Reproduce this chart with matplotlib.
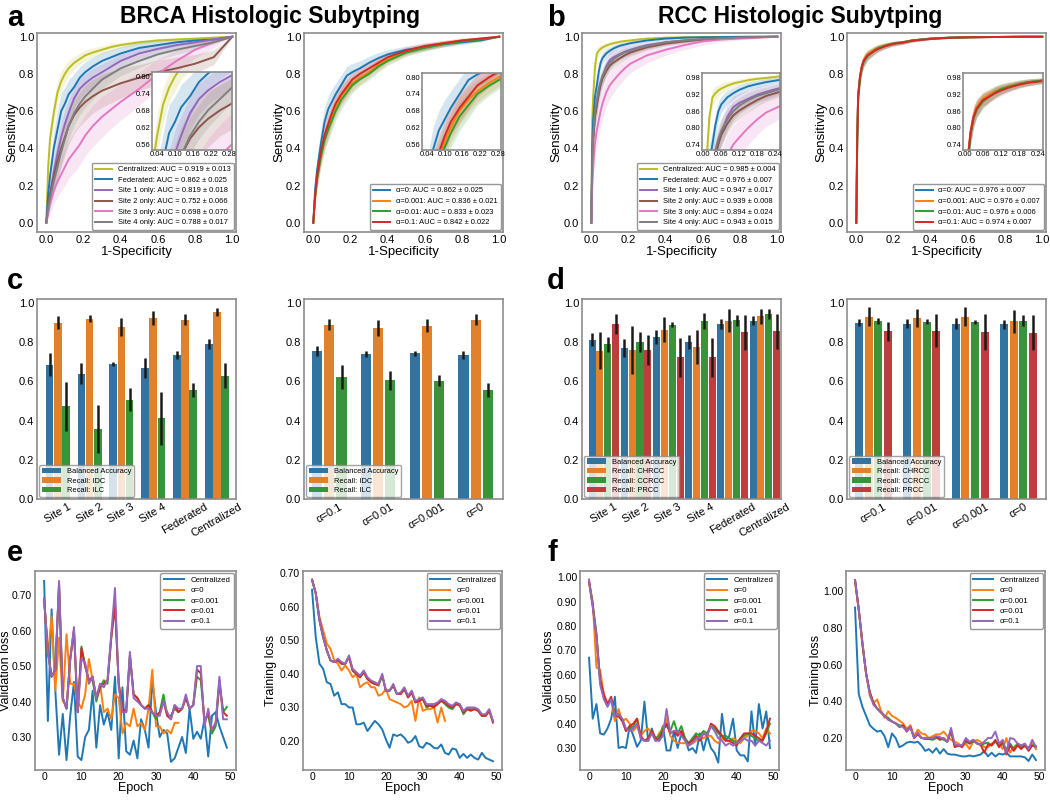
import numpy as np
import matplotlib.pyplot as plt
from matplotlib.ticker import FormatStrFormatter

plt.rcParams['font.family'] = ['Liberation Sans', 'DejaVu Sans']

# ---------------- ROC data ----------------
brca_fpr = [0, 0.01, 0.02, 0.04, 0.06, 0.08, 0.10, 0.12, 0.15, 0.18, 0.21,
            0.25, 0.30, 0.35, 0.40, 0.50, 0.60, 0.70, 0.80, 0.90, 1.0]
brca_names = ['Centralized', 'Federated', 'Site 1 only', 'Site 2 only', 'Site 3 only', 'Site 4 only']
brca_auc = ['0.919 ± 0.013', '0.862 ± 0.025', '0.819 ± 0.018', '0.752 ± 0.066', '0.698 ± 0.070', '0.788 ± 0.017']
brca_tpr_central = [0, 0.30, 0.45, 0.59, 0.70, 0.76, 0.80, 0.83, 0.86, 0.88, 0.90,
                    0.915, 0.93, 0.945, 0.955, 0.97, 0.98, 0.985, 0.99, 0.995, 1.0]
brca_tpr_fed = [0, 0.15, 0.25, 0.40, 0.50, 0.60, 0.64, 0.69, 0.73, 0.78, 0.81,
                0.84, 0.87, 0.89, 0.91, 0.94, 0.955, 0.97, 0.98, 0.985, 1.0]
brca_tpr_site1 = [0, 0.08, 0.15, 0.27, 0.37, 0.46, 0.53, 0.59, 0.67, 0.72, 0.75,
                  0.78, 0.81, 0.84, 0.87, 0.91, 0.935, 0.955, 0.97, 0.985, 1.0]
brca_tpr_site2 = [0, 0.08, 0.15, 0.25, 0.33, 0.40, 0.46, 0.52, 0.58, 0.62, 0.65,
                  0.68, 0.71, 0.73, 0.75, 0.78, 0.81, 0.83, 0.855, 0.89, 1.0]
brca_tpr_site3 = [0, 0.05, 0.10, 0.17, 0.22, 0.26, 0.30, 0.34, 0.38, 0.42, 0.47,
                  0.52, 0.57, 0.61, 0.65, 0.72, 0.80, 0.87, 0.93, 0.97, 1.0]
brca_tpr_site4 = [0, 0.08, 0.13, 0.22, 0.30, 0.38, 0.45, 0.52, 0.59, 0.64, 0.68,
                  0.72, 0.77, 0.80, 0.83, 0.87, 0.905, 0.93, 0.95, 0.97, 1.0]
brca_sd_central = [0, 0.05, 0.07, 0.07, 0.06, 0.05, 0.05, 0.04, 0.035, 0.03, 0.03,
                   0.025, 0.02, 0.02, 0.015, 0.012, 0.01, 0.008, 0.006, 0.004, 0]
brca_sd_fed = [0, 0.05, 0.07, 0.09, 0.10, 0.10, 0.09, 0.08, 0.07, 0.06, 0.055,
               0.05, 0.045, 0.04, 0.035, 0.03, 0.025, 0.02, 0.015, 0.01, 0]
brca_sd_site1 = [0, 0.03, 0.05, 0.07, 0.08, 0.08, 0.08, 0.07, 0.06, 0.055, 0.05,
                 0.05, 0.045, 0.04, 0.035, 0.03, 0.025, 0.02, 0.015, 0.01, 0]
brca_sd_site2 = [0, 0.04, 0.06, 0.08, 0.09, 0.10, 0.10, 0.10, 0.10, 0.10, 0.10,
                 0.09, 0.09, 0.085, 0.08, 0.07, 0.065, 0.06, 0.05, 0.04, 0]
brca_sd_site3 = [0, 0.03, 0.05, 0.07, 0.08, 0.09, 0.10, 0.10, 0.11, 0.11, 0.11,
                 0.11, 0.11, 0.10, 0.10, 0.09, 0.08, 0.06, 0.045, 0.03, 0]
brca_sd_site4 = [0, 0.03, 0.05, 0.06, 0.07, 0.07, 0.07, 0.07, 0.065, 0.06, 0.06,
                 0.055, 0.05, 0.045, 0.04, 0.035, 0.03, 0.025, 0.02, 0.01, 0]

alpha_names = ['α=0', 'α=0.001', 'α=0.01', 'α=0.1']
brca_alpha_auc = ['0.862 ± 0.025', '0.836 ± 0.021', '0.833 ± 0.023', '0.842 ± 0.022']
brca_tpr_a0 = [0, 0.18, 0.28, 0.42, 0.54, 0.61, 0.65, 0.69, 0.74, 0.79, 0.81,
               0.83, 0.86, 0.885, 0.905, 0.93, 0.945, 0.96, 0.97, 0.98, 1.0]
brca_tpr_a0001 = [0, 0.14, 0.24, 0.36, 0.45, 0.51, 0.57, 0.62, 0.68, 0.72, 0.75,
                  0.78, 0.81, 0.85, 0.88, 0.92, 0.945, 0.965, 0.98, 0.99, 1.0]
brca_tpr_a001 = [0, 0.14, 0.23, 0.35, 0.44, 0.50, 0.55, 0.60, 0.66, 0.70, 0.74,
                 0.77, 0.80, 0.84, 0.87, 0.915, 0.94, 0.96, 0.975, 0.985, 1.0]
brca_tpr_a01 = [0, 0.15, 0.25, 0.38, 0.47, 0.53, 0.59, 0.64, 0.69, 0.73, 0.77,
                0.80, 0.83, 0.86, 0.89, 0.925, 0.95, 0.965, 0.98, 0.99, 1.0]
brca_sd_a0 = [0, 0.04, 0.06, 0.08, 0.08, 0.07, 0.07, 0.06, 0.055, 0.05, 0.045,
              0.04, 0.035, 0.03, 0.025, 0.02, 0.018, 0.015, 0.012, 0.008, 0]
brca_sd_a = [0, 0.04, 0.05, 0.06, 0.06, 0.06, 0.055, 0.05, 0.05, 0.045, 0.04,
             0.035, 0.03, 0.03, 0.025, 0.02, 0.018, 0.015, 0.012, 0.008, 0]

rcc_fpr = [0, 0.005, 0.01, 0.02, 0.03, 0.04, 0.05, 0.06, 0.08, 0.10, 0.12, 0.15,
           0.18, 0.21, 0.25, 0.30, 0.40, 0.50, 0.60, 0.70, 0.80, 0.90, 1.0]
rcc_auc = ['0.985 ± 0.004', '0.976 ± 0.007', '0.947 ± 0.017', '0.939 ± 0.008', '0.894 ± 0.024', '0.943 ± 0.015']
rcc_tpr_central = [0, 0.55, 0.68, 0.84, 0.91, 0.925, 0.935, 0.942, 0.952, 0.96, 0.965, 0.972,
                   0.977, 0.98, 0.985, 0.99, 0.995, 0.997, 0.998, 0.999, 1.0, 1.0, 1.0]
rcc_tpr_fed = [0, 0.40, 0.55, 0.68, 0.74, 0.81, 0.86, 0.885, 0.91, 0.925, 0.937, 0.95,
               0.958, 0.965, 0.972, 0.98, 0.99, 0.995, 0.997, 0.998, 0.999, 1.0, 1.0]
rcc_tpr_site1 = [0, 0.30, 0.45, 0.58, 0.64, 0.69, 0.74, 0.78, 0.84, 0.875, 0.89, 0.905,
                 0.92, 0.93, 0.942, 0.955, 0.97, 0.98, 0.985, 0.99, 0.995, 0.998, 1.0]
rcc_tpr_site2 = [0, 0.30, 0.45, 0.57, 0.63, 0.70, 0.745, 0.775, 0.815, 0.845, 0.862, 0.882,
                 0.90, 0.915, 0.928, 0.943, 0.963, 0.975, 0.985, 0.99, 0.995, 0.998, 1.0]
rcc_tpr_site3 = [0, 0.20, 0.30, 0.43, 0.50, 0.55, 0.60, 0.64, 0.70, 0.74, 0.765, 0.80,
                 0.83, 0.855, 0.875, 0.90, 0.93, 0.955, 0.975, 0.985, 0.99, 0.995, 1.0]
rcc_tpr_site4 = [0, 0.32, 0.47, 0.60, 0.66, 0.72, 0.76, 0.79, 0.83, 0.86, 0.88, 0.90,
                 0.915, 0.925, 0.938, 0.95, 0.97, 0.98, 0.987, 0.992, 0.996, 0.998, 1.0]
rcc_sd_central = [0, 0.08, 0.06, 0.04, 0.03, 0.025, 0.02, 0.02, 0.015, 0.012, 0.01, 0.01,
                  0.008, 0.007, 0.006, 0.005, 0.004, 0.003, 0.002, 0.002, 0.001, 0.001, 0]
rcc_sd_fed = [0, 0.08, 0.07, 0.06, 0.05, 0.04, 0.035, 0.03, 0.025, 0.02, 0.018, 0.015,
              0.013, 0.012, 0.01, 0.008, 0.006, 0.004, 0.003, 0.002, 0.002, 0.001, 0]
rcc_sd_site1 = [0, 0.08, 0.08, 0.07, 0.06, 0.06, 0.055, 0.05, 0.045, 0.04, 0.035, 0.03,
                0.028, 0.025, 0.02, 0.018, 0.015, 0.01, 0.008, 0.006, 0.004, 0.002, 0]
rcc_sd_site2 = [0, 0.06, 0.06, 0.05, 0.05, 0.045, 0.04, 0.04, 0.035, 0.03, 0.03, 0.025,
                0.022, 0.02, 0.018, 0.015, 0.012, 0.01, 0.008, 0.006, 0.004, 0.002, 0]
rcc_sd_site3 = [0, 0.08, 0.09, 0.09, 0.09, 0.09, 0.085, 0.08, 0.075, 0.07, 0.065, 0.06,
                0.055, 0.05, 0.045, 0.04, 0.03, 0.025, 0.02, 0.012, 0.008, 0.004, 0]
rcc_sd_site4 = [0, 0.07, 0.07, 0.06, 0.06, 0.055, 0.05, 0.045, 0.04, 0.035, 0.03, 0.028,
                0.025, 0.022, 0.02, 0.016, 0.012, 0.01, 0.008, 0.006, 0.004, 0.002, 0]

rcc_alpha_auc = ['0.976 ± 0.007', '0.976 ± 0.007', '0.976 ± 0.006', '0.974 ± 0.007']
rcc_tpr_a0 = [0, 0.45, 0.68, 0.78, 0.84, 0.87, 0.885, 0.90, 0.915, 0.93, 0.94, 0.95,
              0.96, 0.965, 0.97, 0.98, 0.99, 0.995, 0.997, 0.998, 0.999, 1.0, 1.0]
rcc_tpr_a0001 = [0, 0.47, 0.69, 0.79, 0.845, 0.875, 0.89, 0.905, 0.92, 0.932, 0.942, 0.952,
                 0.96, 0.965, 0.97, 0.98, 0.99, 0.995, 0.997, 0.998, 0.999, 1.0, 1.0]
rcc_tpr_a001 = [0, 0.44, 0.67, 0.78, 0.835, 0.865, 0.88, 0.895, 0.912, 0.928, 0.94, 0.95,
                0.958, 0.965, 0.97, 0.98, 0.99, 0.995, 0.997, 0.998, 0.999, 1.0, 1.0]
rcc_tpr_a01 = [0, 0.45, 0.68, 0.785, 0.84, 0.87, 0.885, 0.90, 0.912, 0.925, 0.935, 0.947,
               0.956, 0.963, 0.968, 0.978, 0.988, 0.994, 0.997, 0.998, 0.999, 1.0, 1.0]
rcc_sd_a = [0, 0.06, 0.05, 0.04, 0.035, 0.03, 0.028, 0.025, 0.022, 0.02, 0.018, 0.015,
            0.013, 0.012, 0.01, 0.008, 0.005, 0.004, 0.003, 0.002, 0.001, 0.001, 0]

# ---------------- bar data ----------------
brca_groups = ['Site 1', 'Site 2', 'Site 3', 'Site 4', 'Federated', 'Centralized']
brca_metrics = ['Balanced Accuracy', 'Recall: IDC', 'Recall: ILC']
brca_bacc = [0.685, 0.639, 0.690, 0.668, 0.736, 0.790]
brca_bacc_err = [0.06, 0.054, 0.011, 0.051, 0.02, 0.026]
brca_idc = [0.900, 0.920, 0.877, 0.923, 0.915, 0.954]
brca_idc_err = [0.032, 0.019, 0.045, 0.037, 0.027, 0.02]
brca_ilc = [0.472, 0.358, 0.506, 0.412, 0.557, 0.629]
brca_ilc_err = [0.126, 0.123, 0.058, 0.135, 0.037, 0.063]

alpha_groups = ['α=0.1', 'α=0.01', 'α=0.001', 'α=0']
brca_a_bacc = [0.756, 0.739, 0.744, 0.736]
brca_a_bacc_err = [0.026, 0.017, 0.013, 0.02]
brca_a_idc = [0.889, 0.874, 0.884, 0.915]
brca_a_idc_err = [0.027, 0.041, 0.032, 0.027]
brca_a_ilc = [0.622, 0.605, 0.603, 0.557]
brca_a_ilc_err = [0.062, 0.05, 0.028, 0.037]

rcc_metrics = ['Balanced Accuracy', 'Recall: CHRCC', 'Recall: CCRCC', 'Recall: PRCC']
rcc_bacc = [0.813, 0.770, 0.826, 0.800, 0.891, 0.910]
rcc_bacc_err = [0.034, 0.047, 0.034, 0.034, 0.025, 0.023]
rcc_chrcc = [0.756, 0.760, 0.864, 0.775, 0.910, 0.932]
rcc_chrcc_err = [0.094, 0.12, 0.064, 0.085, 0.06, 0.039]
rcc_ccrcc = [0.790, 0.800, 0.889, 0.906, 0.911, 0.944]
rcc_ccrcc_err = [0.038, 0.051, 0.014, 0.041, 0.028, 0.027]
rcc_prcc = [0.893, 0.758, 0.722, 0.722, 0.850, 0.855]
rcc_prcc_err = [0.051, 0.077, 0.10, 0.10, 0.09, 0.089]

rcc_a_bacc = [0.900, 0.895, 0.895, 0.890]
rcc_a_bacc_err = [0.02, 0.025, 0.03, 0.025]
rcc_a_chrcc = [0.930, 0.922, 0.930, 0.906]
rcc_a_chrcc_err = [0.048, 0.047, 0.048, 0.06]
rcc_a_ccrcc = [0.910, 0.905, 0.901, 0.910]
rcc_a_ccrcc_err = [0.015, 0.014, 0.011, 0.028]
rcc_a_prcc = [0.855, 0.857, 0.852, 0.849]
rcc_a_prcc_err = [0.048, 0.084, 0.094, 0.09]

# ---------------- loss data ----------------
loss_names = ['Centralized', 'α=0', 'α=0.001', 'α=0.01', 'α=0.1']
brca_val_central = [0.74, 0.345, 0.66, 0.43, 0.25, 0.365, 0.235, 0.36, 0.455, 0.245,
                    0.235, 0.30, 0.32, 0.43, 0.27, 0.39, 0.335, 0.37, 0.32, 0.47,
                    0.24, 0.44, 0.26, 0.25, 0.29, 0.24, 0.35, 0.32, 0.27, 0.46,
                    0.37, 0.30, 0.32, 0.31, 0.23, 0.24, 0.27, 0.30, 0.255, 0.38,
                    0.295, 0.315, 0.295, 0.35, 0.245, 0.36, 0.37, 0.33, 0.30, 0.27]
brca_val_a0 = [0.69, 0.53, 0.64, 0.43, 0.58, 0.40, 0.59, 0.45, 0.45, 0.40,
               0.38, 0.42, 0.52, 0.46, 0.41, 0.45, 0.37, 0.38, 0.35, 0.42,
               0.41, 0.31, 0.34, 0.33, 0.38, 0.33, 0.34, 0.32, 0.38, 0.49,
               0.33, 0.33, 0.31, 0.32, 0.31, 0.34, 0.34]
brca_val_a0001 = [0.69, 0.54, 0.47, 0.49, 0.73, 0.41, 0.38, 0.52, 0.60, 0.37,
                  0.555, 0.50, 0.46, 0.46, 0.40, 0.44, 0.46, 0.45, 0.58, 0.68,
                  0.45, 0.38, 0.37, 0.53, 0.42, 0.41, 0.39, 0.38, 0.39, 0.37,
                  0.35, 0.37, 0.42, 0.36, 0.36, 0.38, 0.37, 0.38, 0.41, 0.38,
                  0.39, 0.47, 0.46, 0.35, 0.36, 0.31, 0.33, 0.45, 0.37, 0.385]
brca_val_a001 = [0.69, 0.54, 0.47, 0.49, 0.73, 0.41, 0.38, 0.52, 0.60, 0.37,
                 0.55, 0.50, 0.46, 0.47, 0.41, 0.44, 0.45, 0.46, 0.58, 0.67,
                 0.45, 0.38, 0.37, 0.53, 0.42, 0.41, 0.39, 0.38, 0.39, 0.37,
                 0.36, 0.37, 0.40, 0.36, 0.35, 0.39, 0.37, 0.38, 0.41, 0.38,
                 0.39, 0.49, 0.48, 0.34, 0.37, 0.32, 0.34, 0.46, 0.37, 0.36]
brca_val_a01 = [0.69, 0.54, 0.47, 0.49, 0.74, 0.41, 0.38, 0.52, 0.61, 0.37,
                0.52, 0.51, 0.45, 0.47, 0.41, 0.45, 0.44, 0.46, 0.59, 0.72,
                0.44, 0.37, 0.37, 0.54, 0.41, 0.40, 0.39, 0.38, 0.38, 0.37,
                0.36, 0.36, 0.40, 0.37, 0.35, 0.39, 0.38, 0.38, 0.42, 0.38,
                0.39, 0.50, 0.50, 0.33, 0.38, 0.32, 0.34, 0.47, 0.35, 0.35]

brca_train_central = [0.65, 0.51, 0.43, 0.415, 0.375, 0.37, 0.335, 0.345, 0.31, 0.31,
                      0.30, 0.30, 0.25, 0.25, 0.255, 0.23, 0.245, 0.26, 0.25, 0.235,
                      0.205, 0.18, 0.22, 0.215, 0.22, 0.21, 0.195, 0.20, 0.215, 0.185,
                      0.18, 0.195, 0.19, 0.18, 0.178, 0.19, 0.165, 0.16, 0.178, 0.175,
                      0.15, 0.162, 0.15, 0.16, 0.15, 0.145, 0.165, 0.15, 0.145, 0.14]
brca_train_a0 = [0.68, 0.64, 0.57, 0.53, 0.49, 0.475, 0.44, 0.43, 0.41, 0.425,
                 0.41, 0.39, 0.40, 0.36, 0.37, 0.375, 0.36, 0.36, 0.335, 0.34,
                 0.355, 0.325, 0.32, 0.315, 0.31, 0.30, 0.305, 0.32, 0.26, 0.33,
                 0.29, 0.295, 0.295, 0.30, 0.255, 0.30, 0.26]
brca_train_a0001 = [0.68, 0.64, 0.56, 0.51, 0.47, 0.44, 0.435, 0.44, 0.43, 0.43,
                    0.45, 0.41, 0.40, 0.39, 0.405, 0.385, 0.375, 0.37, 0.365, 0.395,
                    0.35, 0.35, 0.365, 0.34, 0.34, 0.355, 0.33, 0.345, 0.315, 0.32,
                    0.325, 0.30, 0.305, 0.305, 0.31, 0.32, 0.31, 0.30, 0.295, 0.31,
                    0.31, 0.28, 0.295, 0.295, 0.295, 0.29, 0.275, 0.275, 0.29, 0.26]
brca_train_a001 = [0.68, 0.64, 0.56, 0.51, 0.47, 0.44, 0.435, 0.44, 0.43, 0.43,
                   0.45, 0.41, 0.40, 0.39, 0.405, 0.385, 0.375, 0.37, 0.37, 0.395,
                   0.35, 0.35, 0.365, 0.34, 0.34, 0.355, 0.33, 0.345, 0.315, 0.32,
                   0.325, 0.305, 0.305, 0.30, 0.31, 0.32, 0.315, 0.305, 0.30, 0.31,
                   0.305, 0.285, 0.295, 0.29, 0.295, 0.29, 0.275, 0.275, 0.29, 0.255]
brca_train_a01 = [0.68, 0.64, 0.56, 0.51, 0.47, 0.44, 0.435, 0.445, 0.435, 0.43,
                  0.455, 0.415, 0.405, 0.395, 0.41, 0.39, 0.38, 0.375, 0.37, 0.40,
                  0.35, 0.35, 0.37, 0.34, 0.345, 0.36, 0.335, 0.35, 0.32, 0.325,
                  0.33, 0.31, 0.31, 0.31, 0.315, 0.325, 0.32, 0.31, 0.305, 0.315,
                  0.31, 0.29, 0.30, 0.30, 0.30, 0.295, 0.28, 0.28, 0.295, 0.26]

rcc_val_central = [0.67, 0.42, 0.48, 0.36, 0.355, 0.38, 0.42, 0.51, 0.30, 0.305,
                   0.30, 0.39, 0.35, 0.305, 0.33, 0.49, 0.33, 0.38, 0.33, 0.34,
                   0.39, 0.29, 0.29, 0.37, 0.30, 0.36, 0.34, 0.29, 0.30, 0.28,
                   0.36, 0.29, 0.35, 0.30, 0.28, 0.24, 0.44, 0.33, 0.35, 0.42,
                   0.29, 0.27, 0.27, 0.245, 0.45, 0.31, 0.48, 0.38, 0.45, 0.30]
rcc_val_a0 = [0.98, 0.90, 0.63, 0.62, 0.52, 0.48, 0.50, 0.41, 0.46, 0.41,
              0.42, 0.40, 0.37, 0.39, 0.35, 0.37, 0.38, 0.36, 0.33, 0.36,
              0.38, 0.42, 0.35, 0.33, 0.32, 0.32, 0.32, 0.31, 0.32, 0.33,
              0.34, 0.34, 0.35, 0.35, 0.33, 0.32, 0.34, 0.33, 0.33, 0.34,
              0.33, 0.32, 0.34, 0.35, 0.37, 0.37, 0.36, 0.34, 0.38, 0.36]
rcc_val_a0001 = [0.98, 0.89, 0.77, 0.57, 0.51, 0.47, 0.50, 0.44, 0.43, 0.42,
                 0.37, 0.38, 0.39, 0.42, 0.34, 0.33, 0.33, 0.37, 0.34, 0.35,
                 0.38, 0.39, 0.37, 0.41, 0.36, 0.39, 0.34, 0.32, 0.34, 0.36,
                 0.35, 0.37, 0.36, 0.39, 0.38, 0.36, 0.35, 0.35, 0.34, 0.33,
                 0.32, 0.34, 0.35, 0.36, 0.35, 0.34, 0.33, 0.33, 0.36, 0.40]
rcc_val_a001 = [0.98, 0.88, 0.76, 0.58, 0.52, 0.48, 0.51, 0.43, 0.43, 0.41,
                0.37, 0.39, 0.40, 0.42, 0.35, 0.33, 0.34, 0.37, 0.34, 0.33,
                0.37, 0.40, 0.36, 0.37, 0.35, 0.37, 0.33, 0.32, 0.33, 0.35,
                0.33, 0.36, 0.35, 0.40, 0.39, 0.37, 0.35, 0.33, 0.33, 0.32,
                0.31, 0.34, 0.36, 0.36, 0.36, 0.35, 0.34, 0.33, 0.37, 0.42]
rcc_val_a01 = [0.99, 0.88, 0.76, 0.56, 0.50, 0.47, 0.50, 0.43, 0.44, 0.42,
               0.38, 0.37, 0.38, 0.40, 0.34, 0.33, 0.33, 0.36, 0.33, 0.33,
               0.35, 0.46, 0.36, 0.37, 0.37, 0.35, 0.33, 0.31, 0.32, 0.34,
               0.34, 0.36, 0.35, 0.39, 0.37, 0.34, 0.33, 0.31, 0.32, 0.31,
               0.32, 0.33, 0.34, 0.33, 0.33, 0.31, 0.33, 0.32, 0.31, 0.33]

rcc_train_central = [0.91, 0.44, 0.37, 0.32, 0.27, 0.25, 0.235, 0.24, 0.21, 0.15,
                     0.225, 0.20, 0.15, 0.16, 0.175, 0.18, 0.175, 0.18, 0.16, 0.13,
                     0.14, 0.12, 0.145, 0.115, 0.14, 0.115, 0.11, 0.11, 0.105, 0.10,
                     0.10, 0.105, 0.10, 0.105, 0.11, 0.13, 0.10, 0.12, 0.10, 0.115,
                     0.11, 0.12, 0.10, 0.10, 0.10, 0.10, 0.095, 0.075, 0.11, 0.08]
rcc_train_a0 = [1.05, 0.90, 0.72, 0.55, 0.43, 0.39, 0.41, 0.35, 0.31, 0.345,
                0.32, 0.31, 0.295, 0.28, 0.25, 0.27, 0.21, 0.245, 0.225, 0.22,
                0.20, 0.21, 0.22, 0.22, 0.235, 0.21, 0.19, 0.18, 0.17, 0.155,
                0.17, 0.14, 0.18, 0.19, 0.18, 0.15, 0.15, 0.17, 0.18, 0.17,
                0.14, 0.20, 0.12, 0.15, 0.17, 0.16, 0.16, 0.14, 0.18, 0.14]
rcc_train_a0001 = [1.06, 0.90, 0.71, 0.55, 0.45, 0.39, 0.36, 0.34, 0.32, 0.31,
                   0.29, 0.28, 0.27, 0.265, 0.24, 0.26, 0.20, 0.225, 0.20, 0.20,
                   0.195, 0.19, 0.20, 0.20, 0.19, 0.18, 0.235, 0.16, 0.155, 0.16,
                   0.18, 0.17, 0.18, 0.175, 0.16, 0.17, 0.175, 0.16, 0.18, 0.16,
                   0.165, 0.14, 0.17, 0.14, 0.165, 0.15, 0.155, 0.15, 0.16, 0.15]
rcc_train_a001 = [1.06, 0.90, 0.71, 0.55, 0.45, 0.39, 0.36, 0.34, 0.32, 0.30,
                  0.29, 0.28, 0.26, 0.27, 0.235, 0.26, 0.20, 0.22, 0.20, 0.195,
                  0.195, 0.20, 0.205, 0.19, 0.20, 0.18, 0.24, 0.15, 0.16, 0.15,
                  0.19, 0.17, 0.19, 0.17, 0.165, 0.12, 0.165, 0.16, 0.19, 0.15,
                  0.18, 0.11, 0.16, 0.13, 0.16, 0.14, 0.16, 0.13, 0.16, 0.155]
rcc_train_a01 = [1.06, 0.90, 0.72, 0.55, 0.44, 0.38, 0.36, 0.34, 0.32, 0.30,
                 0.29, 0.28, 0.265, 0.26, 0.24, 0.26, 0.20, 0.23, 0.20, 0.20,
                 0.20, 0.20, 0.21, 0.205, 0.195, 0.18, 0.255, 0.165, 0.16, 0.16,
                 0.20, 0.18, 0.19, 0.17, 0.165, 0.18, 0.20, 0.20, 0.235, 0.17,
                 0.19, 0.12, 0.20, 0.195, 0.17, 0.16, 0.17, 0.14, 0.19, 0.15]

# ---------------- styling ----------------
roc_colors = ['#bcbd22', '#1f77b4', '#9467bd', '#8c564b', '#e377c2', '#7f7f7f']
alpha_colors = ['#1f77b4', '#ff7f0e', '#2ca02c', '#d62728']
loss_colors = ['#1f77b4', '#ff7f0e', '#2ca02c', '#d62728', '#9467bd']
bar_colors = ['#3274a1', '#e1812c', '#3a923a', '#c03d3e']
SPINE = '#8c8c8c'

W, H = 1050, 800
fig = plt.figure(figsize=(W / 100, H / 100), dpi=100)


def rect(l, t, w, h):
    return [l / W, 1 - (t + h) / H, w / W, h / H]


def style(ax, ts=8):
    for s in ax.spines.values():
        s.set_color(SPINE)
        s.set_linewidth(1.2)
    ax.tick_params(labelsize=ts, length=0, pad=2)


col_l = [37, 304, 582, 847]
row_t = [33, 299, 571]
AW, AH = 199, 199


def roc_panel(pos, ins, fpr, tprs, sds, labels, colors, inset_lim, inset_ticks, ylab_x):
    ax = fig.add_axes(rect(*pos))
    axi = fig.add_axes(rect(*ins))
    for tpr, sd, lab, c in zip(tprs, sds, labels, colors):
        tpr = np.array(tpr)
        sd = np.array(sd)
        lo = np.clip(tpr - sd, 0, 1)
        hi = np.clip(tpr + sd, 0, 1)
        for a in (ax, axi):
            a.fill_between(fpr, lo, hi, color=c, alpha=0.18, lw=0)
            a.plot(fpr, tpr, color=c, lw=1.4, label=lab if a is ax else None)
    ax.set_xlim(-0.05, 1.02)
    ax.set_ylim(-0.05, 1.02)
    ax.set_xticks([0, 0.2, 0.4, 0.6, 0.8, 1.0])
    ax.set_yticks([0, 0.2, 0.4, 0.6, 0.8, 1.0])
    ax.set_xlabel('1-Specificity', fontsize=9.5, labelpad=1)
    ax.set_ylabel('Sensitivity', fontsize=9.5)
    ax.yaxis.set_label_coords(ylab_x, 0.5)
    style(ax)
    ax.legend(loc='lower right', fontsize=5.4, borderaxespad=0.3, handlelength=2.2,
              edgecolor=SPINE, framealpha=0.9, borderpad=0.45, labelspacing=0.45)
    axi.set_xlim(*inset_lim[0])
    axi.set_ylim(*inset_lim[1])
    axi.set_xticks(inset_ticks[0])
    axi.set_yticks(inset_ticks[1])
    axi.xaxis.set_major_formatter(FormatStrFormatter('%.2f'))
    axi.yaxis.set_major_formatter(FormatStrFormatter('%.2f'))
    style(axi, ts=5.5)
    axi.tick_params(pad=1)
    return ax


def bar_panel(pos, groups, vals, errs, labels, slot, bw, xlim):
    ax = fig.add_axes(rect(*pos))
    x = np.arange(len(groups))
    n = len(vals)
    for i, (v, e, lab) in enumerate(zip(vals, errs, labels)):
        off = (i - (n - 1) / 2) * slot
        ax.bar(x + off, v, bw, yerr=e, color=bar_colors[i], label=lab,
               error_kw=dict(ecolor='#1a1a1a', elinewidth=1.8, capsize=0))
    ax.set_xlim(*xlim)
    ax.set_ylim(0, 1.02)
    ax.set_xticks(x)
    ax.set_xticklabels(groups, rotation=30)
    ax.set_yticks([0, 0.2, 0.4, 0.6, 0.8, 1.0])
    style(ax)
    ax.legend(loc='lower left', fontsize=5.4, borderaxespad=0.3, handlelength=2.6,
              edgecolor=SPINE, framealpha=0.8, borderpad=0.35, labelspacing=0.3)
    return ax


def loss_panel(pos, series, ylabel, ylim, yticks, ylab_x):
    ax = fig.add_axes(rect(*pos))
    for s, lab, c in zip(series, loss_names, loss_colors):
        ax.plot(np.arange(len(s)), s, color=c, lw=1.4, label=lab)
    ax.set_xlim(-2.45, 51.45)
    ax.set_ylim(*ylim)
    ax.set_xticks([0, 10, 20, 30, 40, 50])
    ax.set_yticks(yticks)
    ax.yaxis.set_major_formatter(FormatStrFormatter('%.2f'))
    ax.set_xlabel('Epoch', fontsize=9, labelpad=0)
    ax.set_ylabel(ylabel, fontsize=9)
    ax.yaxis.set_label_coords(ylab_x, 0.5)
    style(ax, ts=7.5)
    ax.tick_params(axis='x', pad=1.5)
    ax.legend(loc='upper right', fontsize=5.7, borderaxespad=0.3, handlelength=2.6,
              edgecolor=SPINE, framealpha=0.9, borderpad=0.4, labelspacing=0.35)
    return ax


brca_in = [(0.023, 0.29), (0.54, 0.815)]
brca_in_ticks = [[0.04, 0.10, 0.16, 0.22, 0.28], [0.56, 0.62, 0.68, 0.74, 0.80]]
rcc_in = [(-0.005, 0.257), (0.72, 0.998)]
rcc_in_ticks = [[0.00, 0.06, 0.12, 0.18, 0.24], [0.74, 0.80, 0.86, 0.92, 0.98]]

# row 1: ROC
roc_panel((col_l[0], row_t[0], AW, AH), (152, 72, 80, 78), brca_fpr,
          [brca_tpr_central, brca_tpr_fed, brca_tpr_site1, brca_tpr_site2, brca_tpr_site3, brca_tpr_site4],
          [brca_sd_central, brca_sd_fed, brca_sd_site1, brca_sd_site2, brca_sd_site3, brca_sd_site4],
          [f'{n}: AUC = {a}' for n, a in zip(brca_names, brca_auc)], roc_colors, brca_in, brca_in_ticks, -0.095)
roc_panel((col_l[1], row_t[0], AW, AH), (422, 73, 79, 77), brca_fpr,
          [brca_tpr_a0, brca_tpr_a0001, brca_tpr_a001, brca_tpr_a01],
          [brca_sd_a0, brca_sd_a, brca_sd_a, brca_sd_a],
          [f'{n}: AUC = {a}' for n, a in zip(alpha_names, brca_alpha_auc)], alpha_colors, brca_in, brca_in_ticks, -0.095)
roc_panel((col_l[2], row_t[0], AW, AH), (702, 73, 78, 77), rcc_fpr,
          [rcc_tpr_central, rcc_tpr_fed, rcc_tpr_site1, rcc_tpr_site2, rcc_tpr_site3, rcc_tpr_site4],
          [rcc_sd_central, rcc_sd_fed, rcc_sd_site1, rcc_sd_site2, rcc_sd_site3, rcc_sd_site4],
          [f'{n}: AUC = {a}' for n, a in zip(brca_names, rcc_auc)], roc_colors, rcc_in, rcc_in_ticks, -0.1)
roc_panel((col_l[3], row_t[0], AW, AH), (963, 73, 80, 77), rcc_fpr,
          [rcc_tpr_a0, rcc_tpr_a0001, rcc_tpr_a001, rcc_tpr_a01],
          [rcc_sd_a, rcc_sd_a, rcc_sd_a, rcc_sd_a],
          [f'{n}: AUC = {a}' for n, a in zip(alpha_names, rcc_alpha_auc)], alpha_colors, rcc_in, rcc_in_ticks, -0.1)

# row 2: bars
bar_panel((col_l[0], row_t[1], AW, 200), brca_groups,
          [brca_bacc, brca_idc, brca_ilc], [brca_bacc_err, brca_idc_err, brca_ilc_err],
          brca_metrics, 0.256, 0.24, (-0.65, 5.6))
bar_panel((col_l[1], row_t[1], AW, 200), alpha_groups,
          [brca_a_bacc, brca_a_idc, brca_a_ilc], [brca_a_bacc_err, brca_a_idc_err, brca_a_ilc_err],
          brca_metrics, 0.25, 0.21, (-0.52, 3.56))
bar_panel((col_l[2], row_t[1], AW, 200), brca_groups,
          [rcc_bacc, rcc_chrcc, rcc_ccrcc, rcc_prcc],
          [rcc_bacc_err, rcc_chrcc_err, rcc_ccrcc_err, rcc_prcc_err],
          rcc_metrics, 0.245, 0.22, (-0.68, 5.5))
bar_panel((col_l[3], row_t[1], AW, 200), alpha_groups,
          [rcc_a_bacc, rcc_a_chrcc, rcc_a_ccrcc, rcc_a_prcc],
          [rcc_a_bacc_err, rcc_a_chrcc_err, rcc_a_ccrcc_err, rcc_a_prcc_err],
          rcc_metrics, 0.2, 0.165, (-0.55, 3.57))

# row 3: losses
loss_panel((col_l[0] - 2, row_t[2], 201, AH),
           [brca_val_central, brca_val_a0, brca_val_a0001, brca_val_a001, brca_val_a01],
           'Validation loss', (0.207, 0.768), [0.3, 0.4, 0.5, 0.6, 0.7], -0.116)
loss_panel((col_l[1] - 1, row_t[2], AW, AH),
           [brca_train_central, brca_train_a0, brca_train_a0001, brca_train_a001, brca_train_a01],
           'Training loss', (0.114, 0.706), [0.2, 0.3, 0.4, 0.5, 0.6, 0.7], -0.13)
loss_panel((col_l[2] - 2, row_t[2], AW, AH),
           [rcc_val_central, rcc_val_a0, rcc_val_a0001, rcc_val_a001, rcc_val_a01],
           'Validation loss', (0.21, 1.025), [0.3, 0.4, 0.5, 0.6, 0.7, 0.8, 0.9, 1.0], -0.126)
loss_panel((col_l[3] - 1, row_t[2], AW, AH),
           [rcc_train_central, rcc_train_a0, rcc_train_a0001, rcc_train_a001, rcc_train_a01],
           'Training loss', (0.026, 1.109), [0.2, 0.4, 0.6, 0.8, 1.0], -0.12)

# titles and panel letters
fig.text(270 / W, 1 - 17 / H, 'BRCA Histologic Subytping', ha='center', va='center',
         fontsize=16.5, fontweight='bold')
fig.text(800 / W, 1 - 17 / H, 'RCC Histologic Subytping', ha='center', va='center',
         fontsize=16.5, fontweight='bold')
for letter, x, y in [('a', 7, 26), ('b', 547, 26), ('c', 7, 289),
                     ('d', 547, 289), ('e', 7, 561), ('f', 547, 561)]:
    fig.text(x / W, 1 - y / H, letter, ha='left', va='baseline', fontsize=21, fontweight='bold')

fig.savefig('out.png', dpi=100)
